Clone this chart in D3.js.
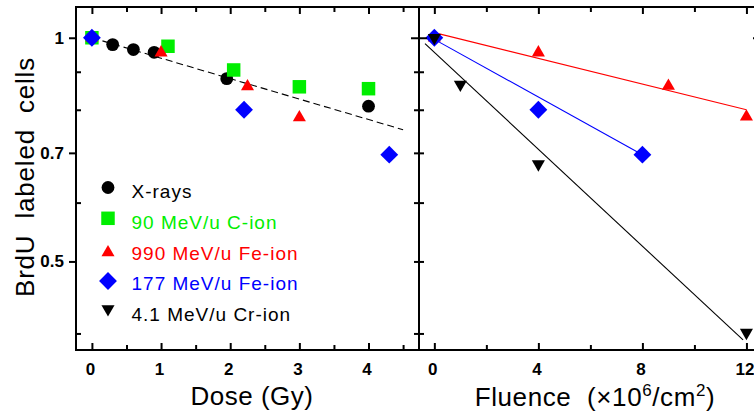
<!DOCTYPE html>
<html>
<head>
<meta charset="utf-8">
<script src="https://cdn.jsdelivr.net/npm/d3@7"></script>
<style>
  body { margin: 0; background: #fff; }
  svg { display: block; }
  text { font-family: "Liberation Sans", Arial, sans-serif; }
</style>
</head>
<body>
<svg id="chart" width="754" height="414"></svg>
<script>
// BrdU labeled cell fraction versus dose (left) and particle fluence (right)

// ---- tick values ----
const doseMajorTicks = [0, 1, 2, 3, 4];
const doseMinorTicks = [0.5, 1.5, 2.5, 3.5, 4.5];
const fluenceMajorTicks = [0, 4, 8, 12];
const fluenceMinorTicks = [2, 6, 10];
const yLabelTicks = [1, 0.7, 0.5];
const yMinorTicks = [0.9, 0.8, 0.6, 0.4];
const yUnitTick = [1];
const yInnerTicks = [0.9, 0.8, 0.7, 0.6, 0.5, 0.4];

// ---- left panel: dose (Gy) ----
const xrayDose = [0, 0.3, 0.6, 0.9, 1.95, 4.0];
const xrayValue = [1.0, 0.979, 0.964, 0.956, 0.881, 0.809];
const cIonDose = [0, 1.1, 2.05, 3.0, 4.0];
const cIonValue = [1.0, 0.974, 0.905, 0.859, 0.854];
const fe990Dose = [0, 1.0, 2.25, 3.0];
const fe990Value = [1.0, 0.955, 0.86, 0.781];
const fe177Dose = [0, 2.2, 4.3];
const fe177Value = [1.0, 0.80, 0.696];
const xrayFitDose = [0, 4.5];
const xrayFitValue = [1.0, 0.752];

// ---- right panel: fluence (x10^6 / cm^2) ----
const fe990Fluence = [0, 4, 9, 12];
const fe990FluenceValue = [1.0, 0.955, 0.861, 0.783];
const fe177Fluence = [0, 4, 8];
const fe177FluenceValue = [1.0, 0.80, 0.696];
const crFluence = [0, 1, 4, 12];
const crFluenceValue = [1.0, 0.865, 0.676, 0.401];
const fe990FitFluence = [0, 12];
const fe990FitValue = [1.016, 0.80];
const fe177FitFluence = [0, 8];
const fe177FitValue = [0.995, 0.696];
const crFitFluence = [-0.36, 11.87];
const crFitValue = [0.982, 0.392];

// ---- legend ----
const legendLabels = ["X-rays", "90 MeV/u C-ion", "990 MeV/u Fe-ion", "177 MeV/u Fe-ion", "4.1 MeV/u Cr-ion"];
const legendColors = ["#000000", "#00ee00", "#ff0000", "#0000ff", "#000000"];
const legendShapes = ["circle", "square", "triangle", "diamond", "down"];

const svg = d3.select("#chart");

// panel geometry
const frameTop = 7, frameBottom = 350;
const leftX0 = 76, midX = 419, rightX1 = 761;

const xDose = d3.scaleLinear().domain([-0.23, 4.73]).range([leftX0, midX]);
const xFlu = d3.scaleLinear().domain([-0.59, 12.56]).range([midX, rightX1]);
const y = d3.scaleLog().domain([0.38, 1.10]).range([frameBottom, frameTop]);

// marker shapes
function shapePath(kind) {
  switch (kind) {
    case "circle":   return d3.symbol(d3.symbolCircle, Math.PI * 6.4 * 6.4)();
    case "square":   return d3.symbol(d3.symbolSquare, 13.5 * 13.5)();
    case "triangle": return d3.symbol(d3.symbolTriangle, 74)();
    case "diamond":  return d3.symbol(d3.symbolSquare, 12.6 * 12.6)();
    case "down":     return d3.symbol(d3.symbolTriangle, 74)();
  }
}
function shapeRotation(kind) {
  if (kind === "diamond") return 45;
  if (kind === "down") return 180;
  return 0;
}

function drawMarkers(g, xs, ys, xScale, kind, color) {
  g.selectAll(null)
    .data(xs.map((d, i) => [d, ys[i]]))
    .join("path")
    .attr("d", shapePath(kind))
    .attr("transform", d => `translate(${xScale(d[0])},${y(d[1])}) rotate(${shapeRotation(kind)})`)
    .attr("fill", color);
}

function drawLine(g, xs, ys, xScale, color, dash) {
  const line = d3.line().x(d => xScale(d[0])).y(d => y(d[1]));
  g.append("path")
    .datum(xs.map((d, i) => [d, ys[i]]))
    .attr("d", line)
    .attr("fill", "none")
    .attr("stroke", color)
    .attr("stroke-width", 1.1)
    .attr("stroke-dasharray", dash || null);
}

// ---- data layers ----
const left = svg.append("g");
drawLine(left, xrayFitDose, xrayFitValue, xDose, "#000", "7,4");
drawMarkers(left, xrayDose, xrayValue, xDose, "circle", legendColors[0]);
drawMarkers(left, cIonDose, cIonValue, xDose, "square", legendColors[1]);
drawMarkers(left, fe990Dose, fe990Value, xDose, "triangle", legendColors[2]);
drawMarkers(left, fe177Dose, fe177Value, xDose, "diamond", legendColors[3]);

const right = svg.append("g");
drawLine(right, fe990FitFluence, fe990FitValue, xFlu, "#ff0000");
drawLine(right, fe177FitFluence, fe177FitValue, xFlu, "#0000ff");
drawLine(right, crFitFluence, crFitValue, xFlu, "#000000");
drawMarkers(right, fe990Fluence, fe990FluenceValue, xFlu, "triangle", legendColors[2]);
drawMarkers(right, fe177Fluence, fe177FluenceValue, xFlu, "diamond", legendColors[3]);
drawMarkers(right, crFluence, crFluenceValue, xFlu, "down", legendColors[4]);

// ---- axes ----
function styleAxis(g) {
  g.select(".domain").remove();
  g.selectAll("line").attr("stroke", "#000").attr("stroke-width", 2);
  g.selectAll("text").attr("font-size", 17).attr("font-weight", "bold").attr("fill", "#000")
    .attr("font-family", "'Liberation Sans', Arial, sans-serif");
}

function xAxes(scale, major, minor) {
  svg.append("g").attr("transform", `translate(0,${frameTop})`)
    .call(d3.axisTop(scale).tickValues(major).tickSize(-7).tickFormat("")).call(styleAxis);
  svg.append("g").attr("transform", `translate(0,${frameTop})`)
    .call(d3.axisTop(scale).tickValues(minor).tickSize(-5).tickFormat("")).call(styleAxis);
  const b = svg.append("g").attr("transform", `translate(0,${frameBottom})`)
    .call(d3.axisBottom(scale).tickValues(major).tickSize(-7).tickPadding(13).tickFormat(d3.format("d")))
    .call(styleAxis);
  b.selectAll("text").attr("dx", -2);
  svg.append("g").attr("transform", `translate(0,${frameBottom})`)
    .call(d3.axisBottom(scale).tickValues(minor).tickSize(-5).tickFormat("")).call(styleAxis);
}
xAxes(xDose, doseMajorTicks, doseMinorTicks);
xAxes(xFlu, fluenceMajorTicks, fluenceMinorTicks);

// left border: labelled ticks point outward, the others point inward
svg.append("g").attr("transform", `translate(${leftX0},0)`)
  .call(d3.axisLeft(y).tickValues(yLabelTicks).tickSize(7).tickPadding(5).tickFormat(d3.format("")))
  .call(styleAxis);
svg.append("g").attr("transform", `translate(${leftX0},0)`)
  .call(d3.axisLeft(y).tickValues(yMinorTicks).tickSize(-5).tickFormat("")).call(styleAxis);

// shared and right borders: ticks cross the line
[midX, rightX1].forEach(xPos => {
  svg.append("g").attr("transform", `translate(${xPos + 8},0)`)
    .call(d3.axisLeft(y).tickValues(yUnitTick).tickSize(16).tickFormat("")).call(styleAxis);
  svg.append("g").attr("transform", `translate(${xPos + 5},0)`)
    .call(d3.axisLeft(y).tickValues(yInnerTicks).tickSize(10).tickFormat("")).call(styleAxis);
});

// ---- frames ----
svg.append("rect").attr("x", leftX0).attr("y", frameTop).attr("width", rightX1 - leftX0).attr("height", frameBottom - frameTop)
  .attr("fill", "none").attr("stroke", "#000").attr("stroke-width", 2);
svg.append("line").attr("x1", midX).attr("x2", midX).attr("y1", frameTop).attr("y2", frameBottom)
  .attr("stroke", "#000").attr("stroke-width", 2);

// ---- axis titles ----
svg.append("text").attr("x", 252).attr("y", 405).attr("text-anchor", "middle")
  .attr("font-size", 26).attr("letter-spacing", 0.5).text("Dose (Gy)");

const flu = svg.append("text").attr("x", 595).attr("y", 406).attr("text-anchor", "middle")
  .attr("font-size", 26).attr("letter-spacing", 0.6);
flu.append("tspan").text("Fluence\u00a0\u00a0(\u00d710");
flu.append("tspan").attr("font-size", 17).attr("dy", -10).text("6");
flu.append("tspan").attr("dy", 10).text("/cm");
flu.append("tspan").attr("font-size", 17).attr("dy", -10).text("2");
flu.append("tspan").attr("dy", 10).text(")");

svg.append("text").attr("transform", "translate(34,177) rotate(-90)").attr("text-anchor", "middle")
  .attr("font-size", 26).attr("letter-spacing", 0.8).text("BrdU\u00a0\u00a0labeled\u00a0\u00a0cells");

// ---- legend ----
const legendMarkY = [187.5, 218.3, 252.5, 281, 309];
const legendTextY = [197.5, 229, 259.5, 290, 321];
const legend = svg.append("g");
legendLabels.forEach((lab, i) => {
  legend.append("path")
    .attr("d", shapePath(legendShapes[i]))
    .attr("transform", `translate(108,${legendMarkY[i]}) rotate(${shapeRotation(legendShapes[i])})`)
    .attr("fill", legendColors[i]);
  legend.append("text").attr("x", 131.5).attr("y", legendTextY[i])
    .attr("font-size", 19).attr("letter-spacing", 1).attr("fill", legendColors[i]).text(lab);
});
</script>
</body>
</html>
